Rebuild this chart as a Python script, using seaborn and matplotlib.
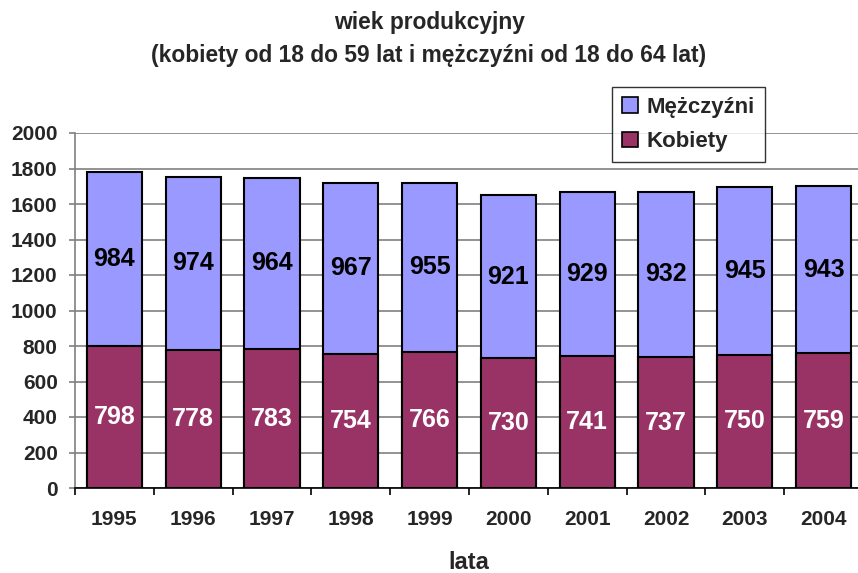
import matplotlib
matplotlib.use("Agg")
import matplotlib.pyplot as plt
from matplotlib.patches import Patch
from matplotlib.ticker import MultipleLocator, FixedLocator
import seaborn as sns
import pandas as pd

years = ["1995", "1996", "1997", "1998", "1999", "2000", "2001", "2002", "2003", "2004"]
kobiety = [798, 778, 783, 754, 766, 730, 741, 737, 750, 759]
mezczyzni = [984, 974, 964, 967, 955, 921, 929, 932, 945, 943]

col_k = "#993366"
col_m = "#9999FF"

sns.set_theme(style="white")
plt.rcParams["font.family"] = ["Liberation Sans", "DejaVu Sans"]
plt.rcParams["font.weight"] = "bold"

df = pd.DataFrame({"rok": years, "Kobiety": kobiety, "Mężczyźni": mezczyzni})
df["razem"] = df["Kobiety"] + df["Mężczyźni"]

fig = plt.figure(figsize=(8.58, 5.73), dpi=100)
ax = fig.add_axes([75 / 858, 85 / 573, 788 / 858, 355 / 573])

# stacked: total bar first, women bar drawn over its lower part
sns.barplot(data=df, x="rok", y="razem", color=col_m, saturation=1, width=0.7,
            edgecolor="black", linewidth=1.5, ax=ax)
sns.barplot(data=df, x="rok", y="Kobiety", color=col_k, saturation=1, width=0.7,
            edgecolor="black", linewidth=1.5, ax=ax)

for i, (k, m) in enumerate(zip(kobiety, mezczyzni)):
    ax.text(i, k / 2, str(k), ha="center", va="center", color="white",
            fontsize=18, fontweight="bold")
    ax.text(i, k + m / 2, str(m), ha="center", va="center", color="black",
            fontsize=18, fontweight="bold")

ax.set_ylim(0, 2000)
ax.set_xlim(-0.5, len(years) - 0.5)
ax.yaxis.set_major_locator(MultipleLocator(200))
ax.set_axisbelow(True)
ax.grid(axis="y", color="#808080", linewidth=1.2)
ax.grid(axis="x", visible=False)

for s in ["top", "right"]:
    ax.spines[s].set_visible(False)
ax.spines["left"].set_color("#808080")
ax.spines["left"].set_linewidth(1.2)
ax.spines["bottom"].set_color("black")
ax.spines["bottom"].set_linewidth(1.2)

ax.tick_params(axis="y", left=True, length=4.5, width=1.2, color="#808080",
               pad=8, labelsize=15)
ax.tick_params(axis="x", which="major", bottom=False, length=0, pad=16, labelsize=15)
ax.xaxis.set_minor_locator(FixedLocator([i + 0.5 for i in range(-1, len(years))]))
ax.tick_params(axis="x", which="minor", bottom=True, length=5, width=1.2, color="black")
for lab in ax.get_xticklabels() + ax.get_yticklabels():
    lab.set_fontweight("bold")

ax.set_ylabel("")
ax.set_xlabel("lata", fontsize=17, fontweight="bold", labelpad=16)

fig.text(0.5, 1 - 39 / 573, "wiek produkcyjny\n(kobiety od 18 do 59 lat i mężczyźni od 18 do 64 lat)",
         ha="center", va="center", fontsize=16.4, fontweight="bold", linespacing=1.6)

handles = [Patch(facecolor=col_m, edgecolor="black", linewidth=1.2, label="Mężczyźni"),
           Patch(facecolor=col_k, edgecolor="black", linewidth=1.2, label="Kobiety")]
leg = fig.legend(handles=handles, loc="upper left", bbox_to_anchor=(612 / 858, 1 - 87 / 573),
                 frameon=True, fancybox=False, edgecolor="black", fontsize=16,
                 handlelength=0.7, handleheight=0.7, handletextpad=0.4,
                 labelspacing=0.6, borderpad=0.45, borderaxespad=0)
leg.get_frame().set_linewidth(1.0)
for t in leg.get_texts():
    t.set_fontweight("bold")

fig.savefig("out.png", dpi=100, facecolor="white")
